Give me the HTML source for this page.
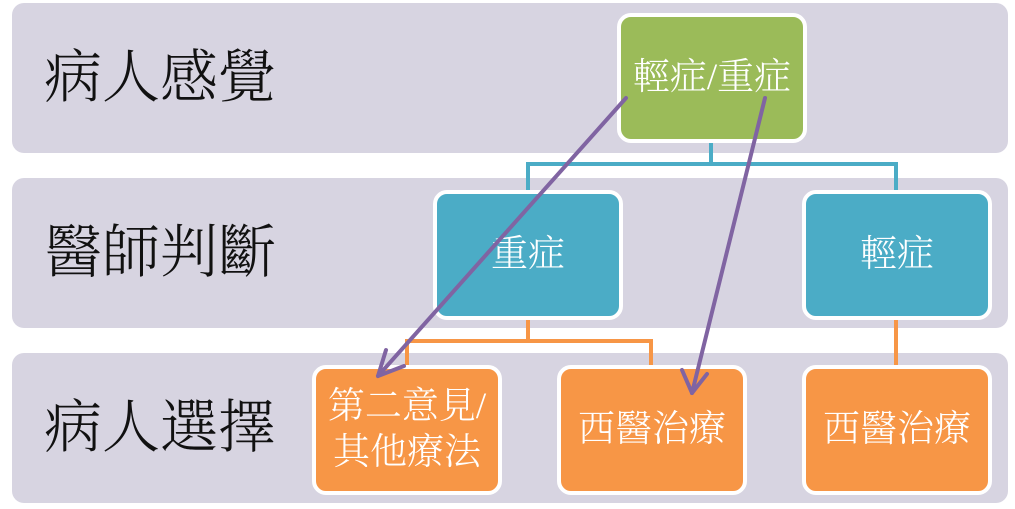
<!DOCTYPE html>
<html><head><meta charset="utf-8"><style>
body{margin:0;width:1015px;height:509px;background:#fff;position:relative;overflow:hidden;font-family:"Liberation Serif","Noto Serif CJK SC","Noto Sans CJK TC",serif}
.band{position:absolute;left:12px;width:996px;height:150px;background:#d7d4e1;border-radius:12px}
.lab{position:absolute;left:44px;font-size:58px;color:#111;line-height:1;font-weight:300}
.box{position:absolute;width:182px;height:122px;border:4px solid #fff;border-radius:14px;color:#fff;font-size:37px;display:flex;align-items:center;justify-content:center;text-align:center;line-height:1.25;box-sizing:content-box;font-weight:300}
</style></head><body>
<div class="band" style="top:3px"></div>
<div class="band" style="top:178px"></div>
<div class="band" style="top:353px"></div>
<div class="lab" style="top:49px">病人感覺</div>
<div class="lab" style="top:224px">醫師判斷</div>
<div class="lab" style="top:399px">病人選擇</div>
<svg width="1015" height="509" style="position:absolute;left:0;top:0">
<g fill="none" stroke-width="4">
<path d="M711 142V164H528V190M711 164H896V190" stroke="#4bacc6"/>
<path d="M528 318V341H407V365M528 341H651V365M896 318V365" stroke="#f79646"/>
</g>
</svg>
<div class="box" style="left:617px;top:13px;background:#9bbb59">輕症/重症</div>
<div class="box" style="left:433px;top:190px;background:#4bacc6">重症</div>
<div class="box" style="left:802px;top:190px;background:#4bacc6">輕症</div>
<div class="box" style="left:312px;top:365px;background:#f79646">第二意見/<br>其他療法</div>
<div class="box" style="left:557px;top:365px;background:#f79646">西醫治療</div>
<div class="box" style="left:802px;top:365px;background:#f79646">西醫治療</div>
<svg width="1015" height="509" style="position:absolute;left:0;top:0">
<g stroke="#8064a2" stroke-width="4" fill="none" stroke-linecap="round">
<path d="M626 98L378 376"/><path d="M378 376L386 350M378 376L404 366"/>
<path d="M765 98L692 393"/><path d="M692 393L682 370M692 393L707 374"/>
</g>
</svg>
</body></html>
